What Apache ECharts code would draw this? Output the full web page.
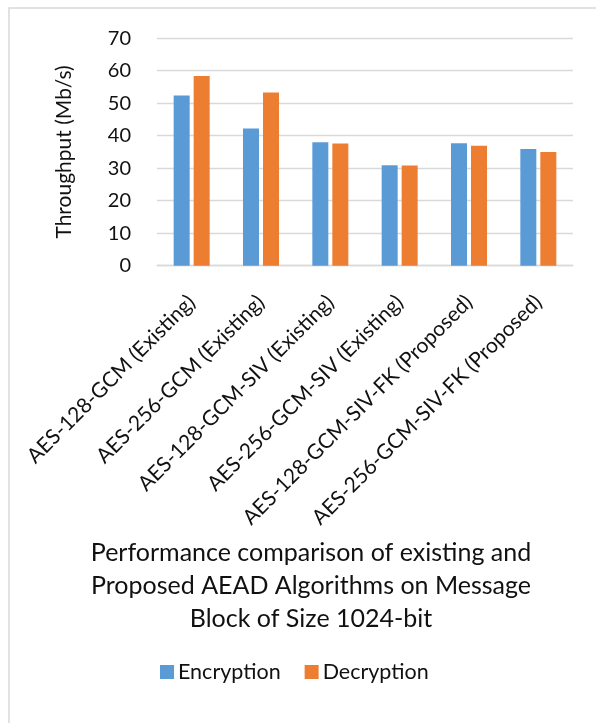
<!DOCTYPE html>
<html>
<head>
<meta charset="utf-8">
<script src="https://cdn.jsdelivr.net/npm/echarts@6/dist/echarts.min.js"></script>
<style>
  html, body { margin: 0; padding: 0; background: #fff; }
  #chart { width: 596px; height: 723px; }
</style>
</head>
<body>
<div id="chart"></div>
<script>
// Algorithms compared
const algorithms = [
  'AES-128-GCM (Existing)',
  'AES-256-GCM (Existing)',
  'AES-128-GCM-SIV (Existing)',
  'AES-256-GCM-SIV (Existing)',
  'AES-128-GCM-SIV-FK (Proposed)',
  'AES-256-GCM-SIV-FK (Proposed)'
];

// Throughput in Mb/s
const encryption = [52.4, 42.2, 38.0, 30.9, 37.7, 35.9];
const decryption = [58.4, 53.3, 37.6, 30.8, 36.9, 35.0];

const yTicks = { min: 0, max: 70, interval: 10 };

const FONT = 'Lato, "Open Sans", sans-serif';
const TEXT = '#111111';

const chart = echarts.init(document.getElementById('chart'), null, { renderer: 'canvas' });

chart.setOption({
  backgroundColor: '#ffffff',
  animation: false,
  textStyle: { fontFamily: FONT },
  graphic: [{
    type: 'rect',
    shape: { x: 9, y: 8, width: 700, height: 800 },
    style: { fill: 'none', stroke: '#d9d9d9', lineWidth: 1.5 },
    silent: true
  }],
  title: {
    text: 'Performance comparison of existing and\nProposed AEAD Algorithms on Message\nBlock of Size 1024-bit',
    left: 306,
    top: 531,
    textAlign: 'center',
    textStyle: {
      fontFamily: FONT,
      fontWeight: 'normal',
      fontSize: 25,
      lineHeight: 33,
      color: TEXT,
      align: 'center'
    }
  },
  legend: {
    left: 155,
    top: 656,
    itemWidth: 14,
    itemHeight: 14,
    itemGap: 24,
    icon: 'rect',
    textStyle: { fontFamily: FONT, fontSize: 21.5, color: TEXT, padding: [0, 0, 0, -1] },
    data: ['Encryption', 'Decryption']
  },
  grid: {
    left: 157,
    right: 23,
    top: 38.2,
    bottom: 457.3,
    containLabel: false
  },
  xAxis: {
    type: 'category',
    data: algorithms,
    axisTick: { show: false },
    axisLine: { lineStyle: { color: '#d9d9d9', width: 1.3 } },
    axisLabel: {
      rotate: 45,
      margin: 33,
      interval: 0,
      fontFamily: FONT,
      fontSize: 21,
      color: TEXT
    }
  },
  yAxis: {
    type: 'value',
    min: yTicks.min,
    max: yTicks.max,
    interval: yTicks.interval,
    name: 'Throughput (Mb/s)',
    nameLocation: 'middle',
    nameRotate: 90,
    nameGap: 82,
    nameTextStyle: { fontFamily: FONT, fontSize: 21, color: TEXT },
    axisLine: { show: false },
    axisTick: { show: false },
    axisLabel: { margin: 26, fontFamily: FONT, fontSize: 20, color: TEXT },
    splitLine: { lineStyle: { color: '#d9d9d9', width: 1.3 } }
  },
  series: [
    {
      name: 'Encryption',
      type: 'bar',
      data: encryption,
      barWidth: 16,
      barGap: '25%',
      itemStyle: { color: '#5B9BD5' }
    },
    {
      name: 'Decryption',
      type: 'bar',
      data: decryption,
      barWidth: 16,
      barGap: '25%',
      itemStyle: { color: '#ED7D31' }
    }
  ]
});
</script>
</body>
</html>
